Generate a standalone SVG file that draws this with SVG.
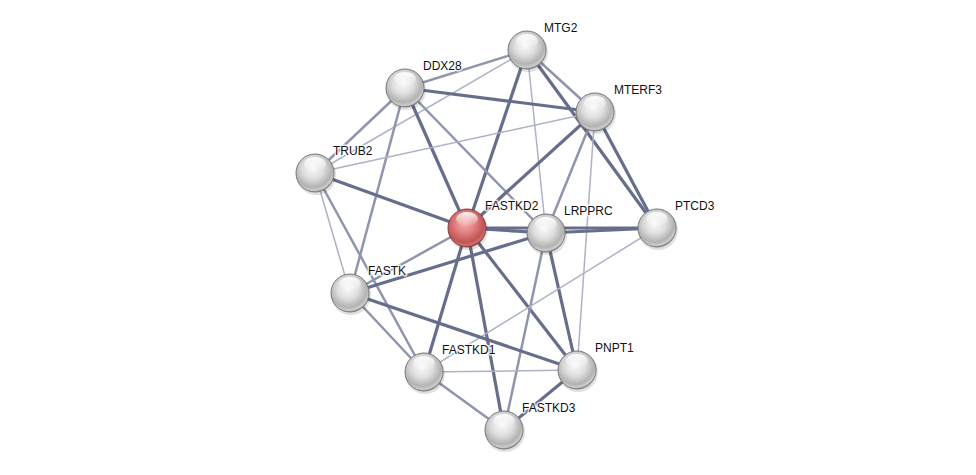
<svg xmlns="http://www.w3.org/2000/svg" width="976" height="475" viewBox="0 0 976 475">
<defs>
<radialGradient id="gw" cx="0.45" cy="0.38" r="0.62">
<stop offset="0" stop-color="#fbfbfb"/>
<stop offset="0.45" stop-color="#dedede"/>
<stop offset="0.8" stop-color="#b2b2b2"/>
<stop offset="0.93" stop-color="#cdcdcd"/>
<stop offset="1" stop-color="#959595"/>
</radialGradient>
<radialGradient id="gr" cx="0.45" cy="0.38" r="0.62">
<stop offset="0" stop-color="#f5b0b0"/>
<stop offset="0.45" stop-color="#de7c7c"/>
<stop offset="0.8" stop-color="#c05454"/>
<stop offset="0.93" stop-color="#d07070"/>
<stop offset="1" stop-color="#9e4444"/>
</radialGradient>
<linearGradient id="hl" x1="0" y1="0" x2="0" y2="1">
<stop offset="0" stop-color="#ffffff" stop-opacity="0.95"/>
<stop offset="1" stop-color="#ffffff" stop-opacity="0"/>
</linearGradient>
<style>
.e1{stroke:#aeb2c6;stroke-width:1.5;fill:none}
.e2{stroke:#8f95ae;stroke-width:2.5;fill:none}
.e3{stroke:#666e8b;stroke-width:3.2;fill:none}
.n{fill:url(#gw);stroke:#777;stroke-width:1}
.r{fill:url(#gr);stroke:#8a3a3a;stroke-width:1}
.h{fill:url(#hl)}
.sh{fill:#000;opacity:0.12}
text{font-family:"Liberation Sans",Arial,sans-serif;font-size:12px;fill:#111;stroke:#fff;stroke-width:3;stroke-opacity:0.8;paint-order:stroke;stroke-linejoin:round}
</style>
</defs>
<rect width="976" height="475" fill="#fff"/>
<g id="edges">
<line class="e2" x1="527" y1="50" x2="405" y2="88"/>
<line class="e1" x1="527" y1="50" x2="315" y2="173"/>
<line class="e3" x1="527" y1="50" x2="467" y2="228"/>
<line class="e1" x1="527" y1="50" x2="546" y2="233"/>
<line class="e2" x1="527" y1="50" x2="595" y2="112"/>
<line class="e3" x1="527" y1="50" x2="657" y2="228"/>
<line class="e3" x1="405" y1="88" x2="595" y2="112"/>
<line class="e2" x1="405" y1="88" x2="315" y2="173"/>
<line class="e2" x1="405" y1="88" x2="350" y2="293"/>
<line class="e3" x1="405" y1="88" x2="467" y2="228"/>
<line class="e2" x1="405" y1="88" x2="546" y2="233"/>
<line class="e1" x1="595" y1="112" x2="315" y2="173"/>
<line class="e3" x1="595" y1="112" x2="467" y2="228"/>
<line class="e2" x1="595" y1="112" x2="546" y2="233"/>
<line class="e3" x1="595" y1="112" x2="657" y2="228"/>
<line class="e1" x1="595" y1="112" x2="577" y2="370"/>
<line class="e3" x1="315" y1="173" x2="467" y2="228"/>
<line class="e1" x1="315" y1="173" x2="350" y2="293"/>
<line class="e2" x1="315" y1="173" x2="424" y2="372"/>
<line class="e3" x1="467" y1="228" x2="546" y2="233"/>
<line class="e3" x1="467" y1="228" x2="657" y2="228"/>
<line class="e2" x1="467" y1="228" x2="350" y2="293"/>
<line class="e3" x1="467" y1="228" x2="424" y2="372"/>
<line class="e3" x1="467" y1="228" x2="504" y2="430"/>
<line class="e3" x1="467" y1="228" x2="577" y2="370"/>
<line class="e3" x1="546" y1="233" x2="657" y2="228"/>
<line class="e3" x1="546" y1="233" x2="350" y2="293"/>
<line class="e2" x1="546" y1="233" x2="504" y2="430"/>
<line class="e3" x1="546" y1="233" x2="577" y2="370"/>
<line class="e1" x1="657" y1="228" x2="424" y2="372"/>
<line class="e3" x1="350" y1="293" x2="577" y2="370"/>
<line class="e2" x1="350" y1="293" x2="424" y2="372"/>
<line class="e1" x1="424" y1="372" x2="577" y2="370"/>
<line class="e2" x1="424" y1="372" x2="504" y2="430"/>
<line class="e3" x1="577" y1="370" x2="504" y2="430"/>
</g>
<g id="MTG2" transform="translate(527,50)"><circle class="sh" cx="1" cy="2" r="20"/><circle class="n" r="19"/><ellipse class="h" cx="0" cy="-9" rx="11" ry="7"/><text x="17" y="-18">MTG2</text></g>
<g id="DDX28" transform="translate(405,88)"><circle class="sh" cx="1" cy="2" r="20"/><circle class="n" r="19"/><ellipse class="h" cx="0" cy="-9" rx="11" ry="7"/><text x="18" y="-18">DDX28</text></g>
<g id="MTERF3" transform="translate(595,112)"><circle class="sh" cx="1" cy="2" r="20"/><circle class="n" r="19"/><ellipse class="h" cx="0" cy="-9" rx="11" ry="7"/><text x="19" y="-18">MTERF3</text></g>
<g id="TRUB2" transform="translate(315,173)"><circle class="sh" cx="1" cy="2" r="20"/><circle class="n" r="19"/><ellipse class="h" cx="0" cy="-9" rx="11" ry="7"/><text x="18" y="-18">TRUB2</text></g>
<g id="LRPPRC" transform="translate(546,233)"><circle class="sh" cx="1" cy="2" r="20"/><circle class="n" r="19"/><ellipse class="h" cx="0" cy="-9" rx="11" ry="7"/><text x="18" y="-18">LRPPRC</text></g>
<g id="PTCD3" transform="translate(657,228)"><circle class="sh" cx="1" cy="2" r="20"/><circle class="n" r="19"/><ellipse class="h" cx="0" cy="-9" rx="11" ry="7"/><text x="18" y="-18">PTCD3</text></g>
<g id="FASTK" transform="translate(350,293)"><circle class="sh" cx="1" cy="2" r="20"/><circle class="n" r="19"/><ellipse class="h" cx="0" cy="-9" rx="11" ry="7"/><text x="18" y="-18">FASTK</text></g>
<g id="FASTKD1" transform="translate(424,372)"><circle class="sh" cx="1" cy="2" r="20"/><circle class="n" r="19"/><ellipse class="h" cx="0" cy="-9" rx="11" ry="7"/><text x="18" y="-18">FASTKD1</text></g>
<g id="PNPT1" transform="translate(577,370)"><circle class="sh" cx="1" cy="2" r="20"/><circle class="n" r="19"/><ellipse class="h" cx="0" cy="-9" rx="11" ry="7"/><text x="18" y="-18">PNPT1</text></g>
<g id="FASTKD3" transform="translate(504,430)"><circle class="sh" cx="1" cy="2" r="20"/><circle class="n" r="19"/><ellipse class="h" cx="0" cy="-9" rx="11" ry="7"/><text x="18" y="-18">FASTKD3</text></g>
<g id="FASTKD2" transform="translate(467,228)"><circle class="sh" cx="1" cy="2" r="20"/><circle class="r" r="19"/><ellipse class="h" cx="0" cy="-9" rx="11" ry="7"/><text x="18" y="-18">FASTKD2</text></g>
</svg>
